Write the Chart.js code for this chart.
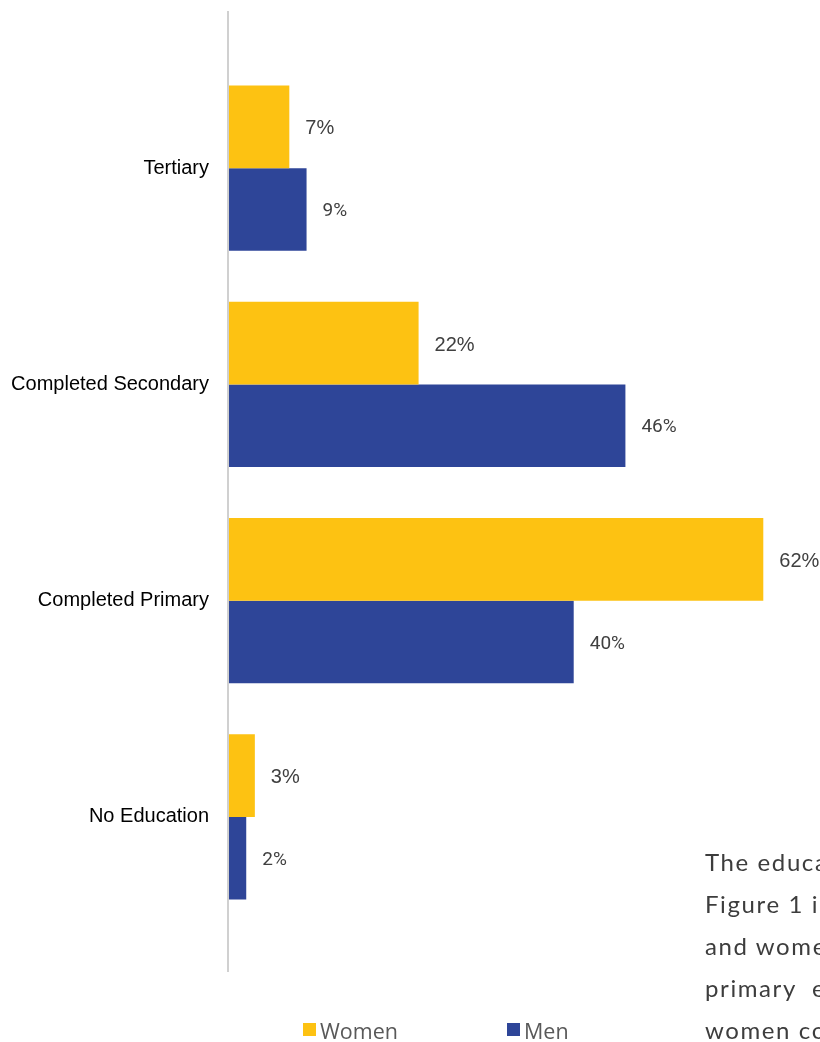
<!DOCTYPE html>
<html>
<head>
<meta charset="utf-8">
<script src="https://cdn.jsdelivr.net/npm/chart.js@4.4.1/dist/chart.umd.min.js"></script>
<style>
    body { margin: 0; background: #fff; }
    .wrap { position: relative; width: 820px; height: 1042px; overflow: hidden; }
    #eduChart { position: absolute; left: 0; top: 0; }
    .legend { position: absolute; left: 303px; top: 1016px; display: flex; }
    .legend-item { display: flex; align-items: center; width: 204px; font-family: "Open Sans", sans-serif; font-size: 21.5px; color: #595959; }
    .legend-box { width: 13px; height: 13px; margin-right: 4px; margin-top: -2px; }
    .para { position: absolute; left: 705px; top: 841px; width: 115px; overflow: hidden; white-space: nowrap;
            font-family: Lato, sans-serif; font-size: 24px; line-height: 42px; letter-spacing: 1.6px; color: #3d3d3d; }
</style>
</head>
<body>
<div class="wrap">
    <canvas id="eduChart" width="820" height="1042"></canvas>
    <div class="legend" id="legend"></div>
    <div class="para">
        The education<br>
        Figure 1 in<br>
        and women<br>
        <span style="word-spacing: 8px;">primary education</span><br>
        women completed
    </div>
</div>
<script>
const categories = ["Tertiary", "Completed Secondary", "Completed Primary", "No Education"];
const womenValues = [7, 22, 62, 3];
const menValues = [9, 46, 40, 2];
const seriesNames = ["Women", "Men"];

// axis line runs past the bars, like in the report
const axisLinePlugin = {
    id: "axisLine",
    beforeDatasetsDraw(chart) {
        const { ctx, chartArea } = chart;
        ctx.save();
        ctx.strokeStyle = "#d0d0d0";
        ctx.lineWidth = 2;
        ctx.beginPath();
        ctx.moveTo(chartArea.left - 1, chartArea.top - 49);
        ctx.lineTo(chartArea.left - 1, chartArea.bottom + 47);
        ctx.stroke();
        ctx.restore();
    },
};

// value labels to the right of each bar
const valueLabelPlugin = {
    id: "valueLabels",
    afterDatasetsDraw(chart) {
        const ctx = chart.ctx;
        chart.data.datasets.forEach((ds, i) => {
            const meta = chart.getDatasetMeta(i);
            ctx.save();
            ctx.fillStyle = "#404040";
            ctx.font = i === 0 ? '20px "Liberation Sans", Arial, sans-serif' : "19px Roboto, sans-serif";
            ctx.textAlign = "left";
            ctx.textBaseline = "middle";
            meta.data.forEach((bar, j) => {
                ctx.fillText(ds.data[j] + "%", bar.x + 16, bar.y + 2);
            });
            ctx.restore();
        });
    },
};

const chart = new Chart(document.getElementById("eduChart"), {
    type: "bar",
    data: {
        labels: categories,
        datasets: [
            {
                label: seriesNames[0],
                data: womenValues,
                backgroundColor: "#FDC212",
                categoryPercentage: 0.764,
                barPercentage: 1.0,
            },
            {
                label: seriesNames[1],
                data: menValues,
                backgroundColor: "#2E4598",
                categoryPercentage: 0.764,
                barPercentage: 1.0,
            },
        ],
    },
    options: {
        indexAxis: "y",
        responsive: false,
        animation: false,
        layout: {
            padding: { top: 60, bottom: 117, left: 0, right: 5 },
        },
        scales: {
            x: {
                display: false,
                min: 0,
                max: 68,
            },
            y: {
                grid: { display: false, drawTicks: false },
                border: { display: false },
                ticks: {
                    color: "#000",
                    padding: 20,
                    font: { family: '"Liberation Sans", Arial, sans-serif', size: 20 },
                },
                afterFit(scale) {
                    scale.width = 229;
                },
            },
        },
        plugins: {
            legend: { display: false },
            tooltip: { enabled: false },
        },
    },
    plugins: [axisLinePlugin, valueLabelPlugin],
});

// legend built from the datasets
const legendEl = document.getElementById("legend");
chart.data.datasets.forEach((ds) => {
    const item = document.createElement("div");
    item.className = "legend-item";
    const box = document.createElement("span");
    box.className = "legend-box";
    box.style.background = ds.backgroundColor;
    item.appendChild(box);
    item.appendChild(document.createTextNode(ds.label));
    legendEl.appendChild(item);
});
</script>
</body>
</html>
